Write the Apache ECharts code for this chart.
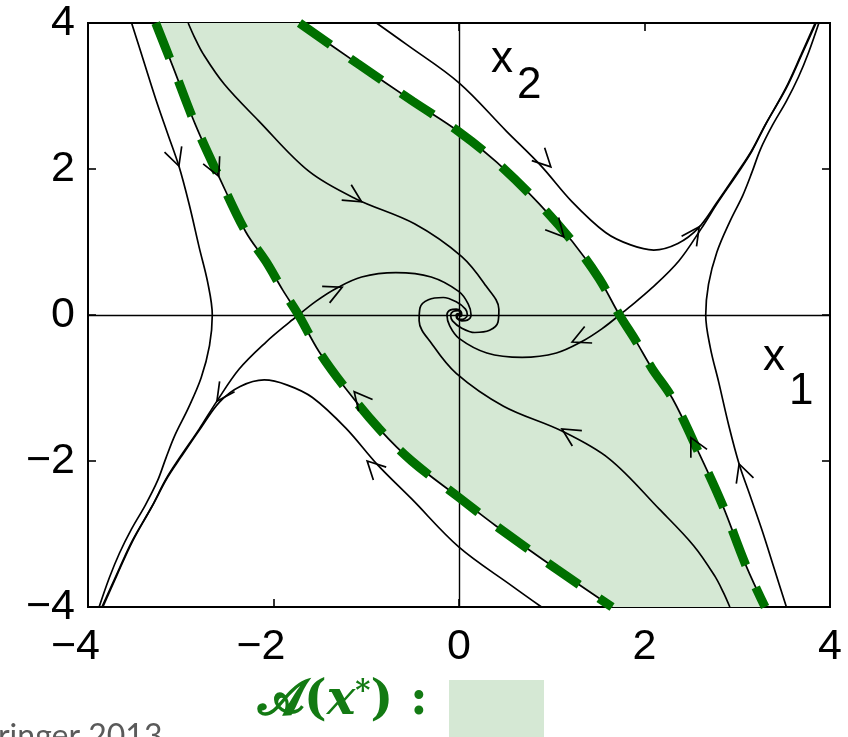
<!DOCTYPE html>
<html>
<head>
<meta charset="utf-8">
<script src="https://cdn.jsdelivr.net/npm/echarts@6/dist/echarts.min.js"></script>
<style>
  html, body { margin: 0; padding: 0; background: #fff; }
  #c { width: 848px; height: 737px; }
</style>
</head>
<body>
<div id="c"></div>
<script>
// Phase portrait of x1' = x2, x2' = -x1 + x1^3/3 - x2 (trajectories as [x1, x2] points)
const ticks = [-4, -2, 0, 2, 4];

// outer trajectories, left and right
const outerLeft = [[-3.53,4.00],[-3.40,3.48],[-3.27,2.96],[-3.14,2.48],[-3.02,2.04],[-2.91,1.52],[-2.80,0.92],[-2.71,0.45],[-2.66,0.00],[-2.69,-0.42],[-2.78,-0.86],[-2.92,-1.28],[-3.06,-1.64],[-3.16,-1.96],[-3.25,-2.27],[-3.38,-2.60],[-3.53,-2.93],[-3.66,-3.26],[-3.77,-3.60],[-3.88,-4.00]];
const outerRight = [[3.53,-4.00],[3.40,-3.48],[3.27,-2.96],[3.14,-2.48],[3.02,-2.04],[2.91,-1.52],[2.80,-0.92],[2.71,-0.45],[2.66,0.00],[2.69,0.42],[2.78,0.86],[2.92,1.28],[3.06,1.64],[3.16,1.96],[3.25,2.27],[3.38,2.60],[3.53,2.93],[3.66,3.26],[3.77,3.60],[3.88,4.00]];

// stable manifolds of the two saddles (boundary of the region of attraction)
const boundaryLeft = [[-3.27,4.00],[-3.09,3.42],[-2.84,2.60],[-2.59,1.90],[-2.30,1.14],[-2.08,0.73],[-1.90,0.34],[-1.73,0.00],[-1.51,-0.50],[-1.22,-1.01],[-0.86,-1.56],[-0.51,-2.00],[0.00,-2.50],[0.40,-2.89],[1.05,-3.48],[1.65,-4.00]];
const boundaryRight = [[-1.72,4.00],[-1.10,3.45],[-0.50,2.93],[0.00,2.51],[0.40,2.10],[0.86,1.53],[1.22,1.01],[1.51,0.50],[1.73,0.00],[1.90,-0.34],[2.08,-0.73],[2.30,-1.14],[2.59,-1.90],[2.84,-2.60],[3.09,-3.42],[3.30,-4.00]];

// unstable manifolds leaving the saddles
const unstableLeftOut = [[-1.73,0.00],[-1.83,-0.10],[-2.08,-0.37],[-2.37,-0.74],[-2.61,-1.18],[-2.80,-1.56],[-3.02,-1.97],[-3.16,-2.25],[-3.31,-2.62],[-3.53,-3.11],[-3.70,-3.58],[-3.85,-4.00]];
const unstableRightOut = [[1.73,0.00],[1.83,0.10],[2.08,0.37],[2.37,0.74],[2.61,1.18],[2.80,1.56],[3.02,1.97],[3.16,2.25],[3.31,2.62],[3.53,3.11],[3.70,3.58],[3.85,4.00]];
const unstableLeftIn = [[-1.73,0.00],[-1.54,0.19],[-1.33,0.36],[-1.05,0.52],[-0.68,0.58],[-0.30,0.52],[0.00,0.32],[0.10,0.15],[0.13,0.00],[0.09,-0.07],[0.03,-0.08],[-0.02,-0.05],[-0.03,0.00],[-0.01,0.02],[0.00,0.00]];
const unstableRightIn = [[1.73,0.00],[1.54,-0.19],[1.33,-0.36],[1.05,-0.52],[0.68,-0.58],[0.30,-0.52],[0.00,-0.32],[-0.10,-0.15],[-0.13,0.00],[-0.09,0.07],[-0.03,0.08],[0.02,0.05],[0.03,0.00],[0.01,-0.02],[0.00,0.00]];

// trajectories spiralling into the origin from the corners
const spiralUpper = [[-2.92,4.00],[-2.85,3.80],[-2.76,3.58],[-2.53,3.16],[-2.16,2.66],[-1.62,1.97],[-1.11,1.59],[-0.48,1.25],[0.03,0.80],[0.29,0.40],[0.43,0.08],[0.42,-0.10],[0.33,-0.21],[0.17,-0.24],[0.03,-0.18],[-0.07,-0.08],[-0.09,0.00],[-0.06,0.05],[-0.01,0.06],[0.02,0.03],[0.02,0.00],[0.00,0.00]];
const spiralLower = [[2.92,-4.00],[2.85,-3.80],[2.76,-3.58],[2.53,-3.16],[2.16,-2.66],[1.62,-1.97],[1.11,-1.59],[0.48,-1.25],[-0.03,-0.80],[-0.29,-0.40],[-0.43,-0.08],[-0.42,0.10],[-0.33,0.21],[-0.17,0.24],[-0.03,0.18],[0.07,0.08],[0.09,0.00],[0.06,-0.05],[0.01,-0.06],[-0.02,-0.03],[-0.02,0.00],[0.00,0.00]];

// trajectories passing close to the saddles
const humpLower = [[0.89,-4.00],[0.57,-3.71],[0.00,-3.18],[-0.51,-2.52],[-0.88,-2.05],[-1.22,-1.55],[-1.58,-1.13],[-1.85,-0.96],[-2.10,-0.89],[-2.36,-0.98],[-2.58,-1.19],[-2.78,-1.54],[-3.00,-1.95],[-3.15,-2.24],[-3.30,-2.60],[-3.52,-3.10],[-3.69,-3.57],[-3.84,-4.00]];
const humpUpper = [[-0.89,4.00],[-0.57,3.71],[0.00,3.18],[0.51,2.52],[0.88,2.05],[1.22,1.55],[1.58,1.13],[1.85,0.96],[2.10,0.89],[2.36,0.98],[2.58,1.19],[2.78,1.54],[3.00,1.95],[3.15,2.24],[3.30,2.60],[3.52,3.10],[3.69,3.57],[3.84,4.00]];

// arrowheads: [x1, x2, direction x1, direction x2]
const arrows = [
  [-3.02, 2.04, 0.27, -1.00],
  [-2.59, 1.90, 0.25, -0.70],
  [-1.05, 1.55, 0.47, -0.37],
  [0.99, 2.03, 0.37, -0.47],
  [1.13, 1.07, 0.36, -0.51],
  [2.59, 1.21, 0.24, 0.44],
  [1.22, -0.37, -0.28, -0.16],
  [2.50, -1.68, -0.22, 0.55],
  [3.02, -2.04, -0.27, 1.00],
  [1.11, -1.56, -0.47, 0.37],
  [-1.13, -1.05, -0.36, 0.55],
  [-0.99, -2.00, -0.37, 0.47],
  [-1.26, 0.38, 0.28, 0.16],
  [-2.61, -1.18, -0.24, -0.44]
];

const trajectories = [outerLeft, outerRight, unstableLeftOut, unstableRightOut, unstableLeftIn, unstableRightIn,
  spiralUpper, spiralLower, humpLower, humpUpper, boundaryLeft, boundaryRight];

const regionFill = '#d5e8d4';
const boundaryGreen = '#007000';
const legendGreen = '#137a13';
const FONT = 'Liberation Sans, Arial, sans-serif';
const LINE_W = 1.7;

function tickText(v) {
  return v < 0 ? '\u2212' + Math.abs(v) : String(v);
}

const chart = echarts.init(document.getElementById('c'), null, { renderer: 'canvas' });

const axisCommon = {
  type: 'value', min: -4, max: 4, interval: 2,
  axisLine: { show: false, onZero: false },
  axisTick: { show: true, inside: true, length: 8, lineStyle: { color: '#000', width: 1.6 } },
  splitLine: { show: false }
};

const series = [];

// shaded region of attraction
series.push({
  type: 'custom', coordinateSystem: 'cartesian2d', silent: true, clip: true, z: 1,
  data: [[0, 0]],
  renderItem: function (params, api) {
    const ring = boundaryLeft.concat(boundaryRight.slice().reverse());
    return { type: 'polygon', shape: { points: ring.map(p => api.coord(p)) }, style: { fill: regionFill } };
  }
});

// coordinate axes through the origin
series.push({
  type: 'line', data: [], silent: true, z: 2,
  markLine: {
    silent: true, symbol: ['none', 'none'], label: { show: false },
    lineStyle: { color: '#000', width: 1.4, type: 'solid' },
    animation: false,
    data: [{ xAxis: 0 }, { yAxis: 0 }]
  }
});

trajectories.forEach(function (pts) {
  series.push({
    type: 'line', data: pts, showSymbol: false, smooth: 0.35, silent: true, clip: true, z: 3,
    lineStyle: { color: '#000', width: LINE_W }
  });
});

[boundaryLeft, boundaryRight].forEach(function (pts) {
  series.push({
    type: 'line', data: pts, showSymbol: false, smooth: 0.35, silent: true, clip: true, z: 5,
    lineStyle: { color: boundaryGreen, width: 9, type: [38, 24], cap: 'butt' }
  });
});

series.push({
  type: 'custom', coordinateSystem: 'cartesian2d', silent: true, clip: false, z: 6,
  data: arrows,
  renderItem: function (params, api) {
    const tip = api.coord([api.value(0), api.value(1)]);
    const back = api.coord([api.value(0) - api.value(2) * 0.1, api.value(1) - api.value(3) * 0.1]);
    let ux = tip[0] - back[0], uy = tip[1] - back[1];
    const L = Math.hypot(ux, uy); ux /= L; uy /= L;
    const len = 20, ang = 27 * Math.PI / 180;
    const c = Math.cos(ang), s = Math.sin(ang);
    const bx = -ux, by = -uy;
    const p1 = [tip[0] + len * (bx * c - by * s), tip[1] + len * (bx * s + by * c)];
    const p2 = [tip[0] + len * (bx * c + by * s), tip[1] + len * (-bx * s + by * c)];
    return { type: 'polyline', shape: { points: [p1, tip, p2] }, style: { stroke: '#000', lineWidth: LINE_W, fill: null } };
  }
});

chart.setOption({
  animation: false,
  backgroundColor: '#fff',
  grid: { left: 88, top: 23, right: 18, bottom: 130, show: true, borderColor: '#000', borderWidth: 2, backgroundColor: 'transparent' },
  xAxis: [
    Object.assign({}, axisCommon, {
      position: 'bottom',
      axisLabel: {
        margin: 19, color: '#000', fontSize: 43, fontFamily: FONT,
        formatter: function (v) { return v < 0 ? '{t|' + tickText(v) + '}{h|\u2212}' : '{t|' + tickText(v) + '}'; },
        rich: { t: { fontSize: 43, fontFamily: FONT, color: '#000' }, h: { fontSize: 43, fontFamily: FONT, color: 'rgba(0,0,0,0)' } }
      }
    }),
    Object.assign({}, axisCommon, { position: 'top', axisLabel: { show: false } })
  ],
  yAxis: [
    Object.assign({}, axisCommon, {
      position: 'left',
      axisLabel: { margin: 13, color: '#000', fontSize: 43, fontFamily: FONT, formatter: tickText }
    }),
    Object.assign({}, axisCommon, { position: 'right', axisLabel: { show: false } })
  ],
  series: series,
  graphic: [
    { type: 'text', left: 491, top: 38, style: { text: 'x', font: '44px ' + FONT, fill: '#000' } },
    { type: 'text', left: 517, top: 64, style: { text: '2', font: '44px ' + FONT, fill: '#000' } },
    { type: 'text', left: 763, top: 336, style: { text: 'x', font: '44px ' + FONT, fill: '#000' } },
    { type: 'text', left: 789, top: 370, style: { text: '1', font: '44px ' + FONT, fill: '#000' } },
    { type: 'rect', left: 449, top: 680, shape: { width: 95, height: 60 }, style: { fill: regionFill } },
    {
      type: 'text', left: 258, top: 678,
      style: {
        text: '{a|\uD835\uDCD0}{p|(}{x|\uD835\uDC99}{s|*}{p|) :}',
        fill: legendGreen,
        rich: {
          a: { font: 'bold 48px DejaVu Serif', fill: legendGreen },
          p: { font: 'bold 48px DejaVu Serif', fill: legendGreen },
          x: { font: 'bold italic 48px DejaVu Serif', fill: legendGreen },
          s: { font: 'bold 29px DejaVu Serif', fill: legendGreen, verticalAlign: 'top', padding: [0, 0, 19, 0] }
        }
      }
    },
    { type: 'text', left: -37, top: 721, style: { text: 'Springer 2013', font: '32px Lato, Open Sans, sans-serif', fill: '#5a5a5a' } }
  ]
});
</script>
</body>
</html>
